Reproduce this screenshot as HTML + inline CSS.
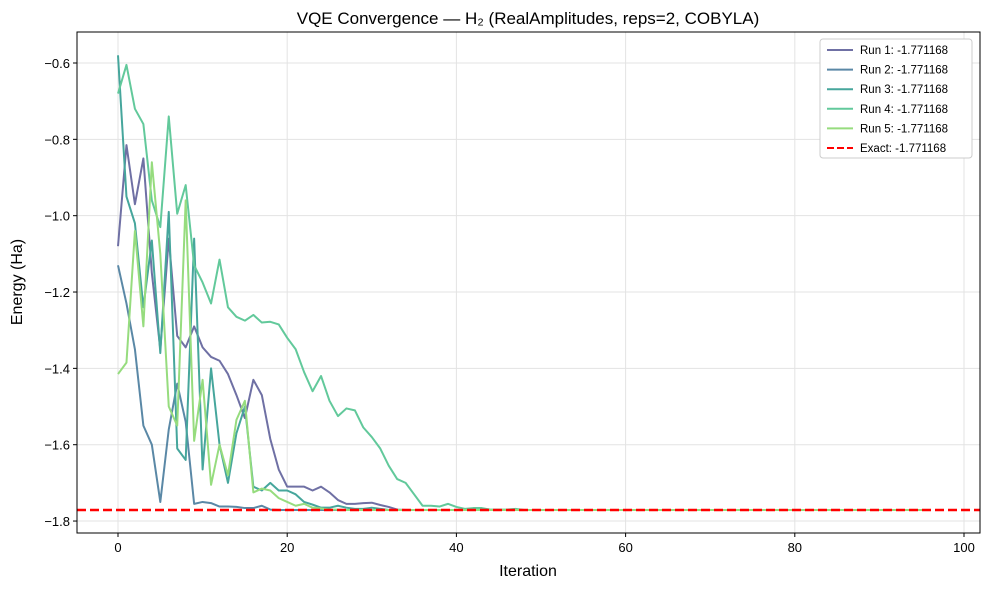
<!DOCTYPE html>
<html><head><meta charset="utf-8"><style>
body{margin:0;background:#fff;font-family:"Liberation Sans","DejaVu Sans",sans-serif}
svg text{font-family:"Liberation Sans","DejaVu Sans",sans-serif;fill:#000}
</style></head><body>
<svg id="c" width="989" height="590">
<text x="528" y="24" font-size="17" text-anchor="middle">VQE Convergence — H₂ (RealAmplitudes, reps=2, COBYLA)</text>
<text x="528" y="576" font-size="16" text-anchor="middle">Iteration</text>
<text x="22" y="282" font-size="16" text-anchor="middle" transform="rotate(-90 22 282)">Energy (Ha)</text>
<g id="grid"></g><g id="series"></g><g id="axes"></g><g id="legend"></g>
</svg>
<script>
const exact = -1.771168;
const xTicks = [0,20,40,60,80,100];
const yTicks = [-0.6,-0.8,-1.0,-1.2,-1.4,-1.6,-1.8];
const runNames = ["Run 1: -1.771168","Run 2: -1.771168","Run 3: -1.771168","Run 4: -1.771168","Run 5: -1.771168"];
const run1 = [-1.08,-0.815,-0.97,-0.85,-1.15,-1.35,-1.06,-1.315,-1.345,-1.29,-1.345,-1.37,-1.38,-1.415,-1.47,-1.53,-1.43,-1.47,-1.585,-1.665,-1.71,-1.71,-1.71,-1.72,-1.71,-1.725,-1.745,-1.755,-1.755,-1.753,-1.752,-1.758,-1.763,-1.77];
const run2 = [-1.13,-1.23,-1.35,-1.55,-1.6,-1.75,-1.56,-1.44,-1.54,-1.755,-1.75,-1.753,-1.762,-1.762,-1.763,-1.766,-1.766,-1.76,-1.77];
const run3 = [-0.58,-0.95,-1.02,-1.24,-1.065,-1.36,-0.99,-1.61,-1.64,-1.06,-1.665,-1.4,-1.6,-1.7,-1.57,-1.5,-1.71,-1.72,-1.7,-1.72,-1.72,-1.73,-1.75,-1.757,-1.765,-1.765,-1.76,-1.765,-1.768,-1.768,-1.765,-1.768];
const run4 = [-0.68,-0.605,-0.72,-0.76,-0.96,-1.03,-0.74,-0.995,-0.92,-1.13,-1.175,-1.23,-1.115,-1.24,-1.265,-1.275,-1.26,-1.28,-1.278,-1.285,-1.32,-1.35,-1.41,-1.46,-1.42,-1.485,-1.525,-1.505,-1.51,-1.555,-1.58,-1.61,-1.655,-1.69,-1.7,-1.73,-1.76,-1.76,-1.762,-1.755,-1.763,-1.768,-1.766,-1.766,-1.77,-1.77,-1.77,-1.768];
const run5 = [-1.415,-1.385,-1.04,-1.29,-0.86,-1.1,-1.5,-1.55,-0.96,-1.59,-1.43,-1.705,-1.6,-1.68,-1.535,-1.485,-1.725,-1.715,-1.72,-1.74,-1.75,-1.76,-1.755,-1.765,-1.767,-1.77,-1.77];
const totalIters = 97;
const colors = ["#6f70a4","#5a88a6","#46a69c","#62c99b","#96dc7e"];
const NS="http://www.w3.org/2000/svg";
const L=77,R=980,T=32,B=533;
const xs=v=>118+v*8.46;
const ys=v=>63+(-0.6-v)*381.7;
function mk(t,a,p){const e=document.createElementNS(NS,t);for(const k in a)e.setAttribute(k,a[k]);p.appendChild(e);return e;}
const grid=document.getElementById('grid'),axes=document.getElementById('axes'),ser=document.getElementById('series'),leg=document.getElementById('legend');
xTicks.forEach(t=>{const x=xs(t);
 const g=mk('line',{x1:x,x2:x,y1:T,y2:B,stroke:'#e3e3e3','stroke-width':1},grid);
 
 
 mk('line',{x1:x,x2:x,y1:B,y2:B+4,stroke:'#000'},axes);
 const tx=mk('text',{x:x,y:B+19,'font-size':13,'text-anchor':'middle'},axes);tx.textContent=t;
 
 
});
yTicks.forEach(t=>{const y=ys(t);
 const g=mk('line',{x1:L,x2:R,y1:y,y2:y,stroke:'#e3e3e3','stroke-width':1},grid);
 
 
 mk('line',{x1:L-4,x2:L,y1:y,y2:y,stroke:'#000'},axes);
 const tx=mk('text',{x:L-7,y:y+5,'font-size':13,'text-anchor':'end'},axes);tx.textContent=t.toFixed(1).replace('-','−');
 
 
});
const fr=mk('rect',{x:L,y:T,width:R-L,height:B-T,fill:'none',stroke:'#000','stroke-width':1},axes);


[run1,run2,run3,run4,run5].forEach((d,i)=>{
 const pts=[];for(let k=0;k<totalIters;k++){const v=k<d.length?d[k]:exact;pts.push(xs(k)+','+ys(v));}
 const p=mk('polyline',{points:pts.join(' '),fill:'none',stroke:colors[i],'stroke-width':2,'stroke-linejoin':'round'},ser);
 
 
});
const ex=mk('line',{x1:L,x2:R,y1:ys(exact),y2:ys(exact),stroke:'#ff0000','stroke-width':2.5,'stroke-dasharray':'9 4'},ser);


const lb=mk('rect',{x:820,y:39,width:152,height:119,fill:'#fff',stroke:'#ccc',rx:3},leg);


const names=runNames.concat(["Exact: -1.771168"]);
names.forEach((n,i)=>{const y=50+i*19.6;
 const c=i<5?colors[i]:'#ff0000';
 const ln=mk('line',{x1:827,x2:853,y1:y,y2:y,stroke:c,'stroke-width':2,'stroke-dasharray':i<5?'none':'7 3'},leg);
 
 
 const t=mk('text',{x:860,y:y+4,'font-size':11.5},leg);t.textContent=n;
 
 
});
</script>
</body></html>
